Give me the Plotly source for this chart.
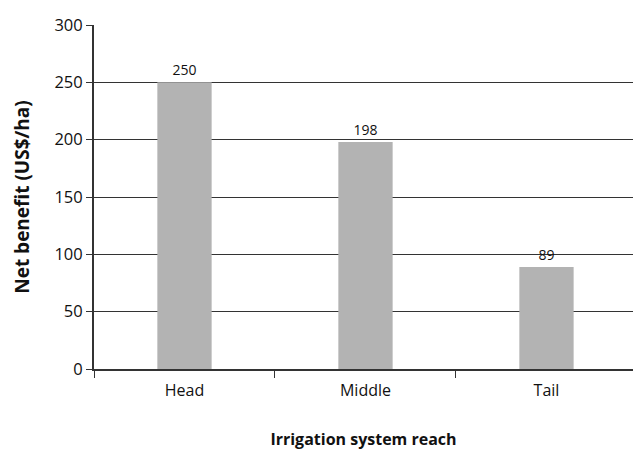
import plotly.graph_objects as go

# Net benefit by position along the irrigation system
reaches = ["Head", "Middle", "Tail"]
net_benefit = [250, 198, 89]

fig = go.Figure(
    go.Bar(
        x=reaches,
        y=net_benefit,
        width=0.30,
        marker=dict(color="#b3b3b3", line=dict(width=0)),
        text=[str(v) for v in net_benefit],
        textposition="outside",
        textfont=dict(family="Open Sans, Lato, sans-serif", size=14, color="#111"),
        cliponaxis=False,
    )
)

fig.update_layout(
    width=633,
    height=453,
    margin=dict(l=94, r=0, t=25, b=84),
    plot_bgcolor="white",
    paper_bgcolor="white",
    showlegend=False,
    font=dict(family="Open Sans, Lato, sans-serif", color="#111"),
)

fig.update_xaxes(
    range=[-0.5, 2.478],
    tickson="boundaries",
    ticks="outside",
    ticklen=7,
    tickwidth=1,
    tickcolor="#333",
    showline=True,
    linecolor="#333",
    linewidth=2,
    showgrid=False,
    tickfont=dict(size=16),
    ticklabelstandoff=6,
    title=dict(
        text="<b>Irrigation system reach</b>",
        font=dict(size=16),
        standoff=34,
    ),
)

fig.update_yaxes(
    range=[0, 300],
    dtick=50,
    ticks="outside",
    ticklen=6,
    tickwidth=1,
    tickcolor="#333",
    showline=True,
    linecolor="#333",
    linewidth=2,
    showgrid=True,
    gridcolor="#333",
    gridwidth=1,
    zeroline=False,
    tickfont=dict(size=16.5),
    title=dict(
        text="<b>Net benefit (US$/ha)</b>",
        font=dict(size=19),
        standoff=20,
    ),
)

fig.write_html("out.html")
